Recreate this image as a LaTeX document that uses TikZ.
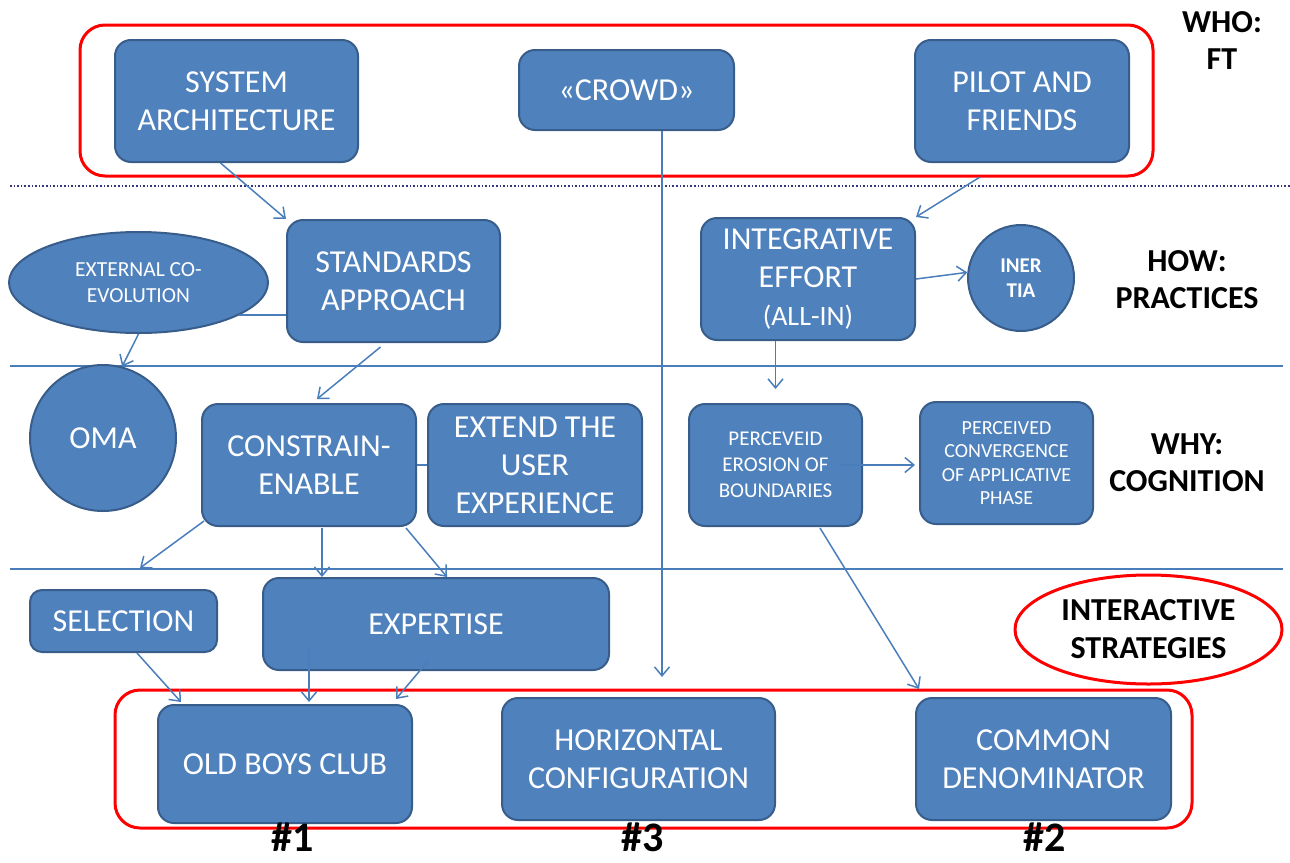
\documentclass[tikz,border=0pt]{standalone}
\usepackage{fontspec}
\setmainfont{Carlito}
\usetikzlibrary{arrows.meta,calc,shapes.geometric}
\definecolor{boxfill}{HTML}{4F81BD}
\definecolor{boxline}{HTML}{385D8A}
\definecolor{conn}{HTML}{4A7EBB}
\definecolor{framered}{HTML}{FF0000}
\tikzset{
  blk/.style={draw=boxline, fill=boxfill, line width=2pt, rounded corners=16pt,
    text=white, align=center, inner sep=0pt, font=\fontsize{32}{38}\selectfont},
  blkround/.style={draw=boxline, fill=boxfill, line width=2pt,
    text=white, align=center, inner sep=0pt},
  smalltxt/.style={font=\fontsize{21.5}{26}\selectfont},
  tinytxt/.style={font=\fontsize{20}{23.5}\selectfont},
  lab/.style={align=center, text=black, font=\bfseries\fontsize{32}{37}\selectfont},
  rank/.style={anchor=base, inner sep=0pt, outer sep=0pt, text=black, font=\bfseries\fontsize{42}{42}\selectfont},
  redframe/.style={draw=framered, line width=3pt, rounded corners=25pt},
  sepline/.style={draw=conn, line width=1.2pt},
  link/.style={draw=conn, line width=1.5pt},
  arr/.style={link, -{Straight Barb[length=9pt,width=15pt,line width=1.5pt]}},
}
\begin{document}
\begin{tikzpicture}[x=1pt,y=-1pt]
\useasboundingbox (0,0) rectangle (1290,862);

% layer separators
\draw[dotted, line width=1.6pt, gray!60!blue!70!black] (10,186) -- (1290,186);
\draw[sepline] (10,366) -- (1283,366);
\draw[sepline] (10,569) -- (1283,569);

% red groupings
\draw[redframe] (80,25) rectangle (1153,176);
\draw[redframe] (115,690) rectangle (1192,828);

% WHO row
\node[blk, minimum width=243pt, minimum height=122pt] (sa) at (236.5,101) {SYSTEM\\ARCHITECTURE};
\node[blk, minimum width=215pt, minimum height=80pt] (cr) at (626.5,90) {«CROWD»};
\node[blk, minimum width=214pt, minimum height=122pt] (pf) at (1022,101) {PILOT AND\\FRIENDS};

% HOW row
\node[blkround, ellipse, smalltxt, minimum width=259pt, minimum height=101pt] (ec) at (138.5,282.5) {EXTERNAL CO-\\EVOLUTION};
\node[blk, minimum width=213pt, minimum height=122pt] (std) at (393.5,281) {STANDARDS\\APPROACH};
\node[blk, minimum width=214pt, minimum height=122pt] (ie) at (808,279) {INTEGRATIVE\\EFFORT\\{\fontsize{28}{38}\selectfont(ALL-IN)}};
\node[blkround, circle, font=\bfseries\fontsize{21}{25}\selectfont, minimum size=106pt] (in) at (1021,278) {INER\\TIA};

% WHY row
\node[blkround, circle, font=\fontsize{32}{38}\selectfont, minimum size=146pt] (om) at (103,438) {OMA};
\node[blk, minimum width=214pt, minimum height=122pt] (ce) at (309,465) {CONSTRAIN-\\ENABLE};
\node[blk, minimum width=214pt, minimum height=122pt] (ex) at (535,465) {EXTEND THE\\USER\\EXPERIENCE};
\node[blk, font=\fontsize{21}{26}\selectfont, minimum width=173pt, minimum height=122pt] (pe) at (775.5,465) {PERCEVEID\\EROSION OF\\BOUNDARIES};
\node[blk, tinytxt, minimum width=173pt, minimum height=122pt] (pc) at (1006.5,463) {PERCEIVED\\CONVERGENCE\\OF APPLICATIVE\\PHASE};

% practices
\node[blk, rounded corners=12pt, minimum width=187pt, minimum height=62pt] (se) at (123.5,621) {SELECTION};
\node[blk, minimum width=346pt, minimum height=92pt] (xp) at (436,624) {EXPERTISE};

% strategies
\node[blk, minimum width=254pt, minimum height=118pt] (ob) at (285,764) {OLD BOYS CLUB};
\node[blk, minimum width=273pt, minimum height=122pt] (hc) at (638.5,759) {HORIZONTAL\\CONFIGURATION};
\node[blk, minimum width=255pt, minimum height=122pt] (cd) at (1043.5,759) {COMMON\\DENOMINATOR};
\node[ellipse, draw=framered, line width=3pt, fill=white, lab, font=\bfseries\fontsize{32}{38}\selectfont,
  minimum width=267pt, minimum height=109pt, inner sep=0pt] (is) at (1148.5,629.5) {INTERACTIVE\\STRATEGIES};

% level labels
\node[lab] (who) at (1222,41) {WHO:\\FT};
\node[lab] (how) at (1187,280) {HOW:\\PRACTICES};
\node[lab] (why) at (1187,463) {WHY:\\COGNITION};
\node[rank] (r1) at (293,851) {\#1};
\node[rank] (r3) at (643,851) {\#3};
\node[rank] (r2) at (1045,851) {\#2};

% connectors
\coordinate (crowdTip) at ($(hc.north)+(23.5,-20)$);
\coordinate (leftTip) at (140,568);
\draw[arr] ($(sa.south)+(-16,0)$) -- (std.north west);
\draw[arr] ($(cr.south)+(35.5,0)$) -- (crowdTip);
\draw[arr] ($(pf.south)+(-42,14)$) -- (ie.north east);
\draw[link] (ec.-18.2) -- (ec.-18.2 -| std.west);
\draw[arr] (ec.south) -- (om.75);
\draw[arr] (ie.east) -- (in.174);
\draw[arr] ($(std.south)+(-13,4)$) -- ($(ce.north)+(8,-4)$);
\draw[link] (ce.east) -- (ex.west);
\draw[arr] (pe.north |- ie.south) -- ($(pe.north)+(0,-14)$);
\draw[arr] ($(pe.east)+(-22,0)$) -- ($(pc.west)+(-4,2)$);
\draw[arr] ($(pe.south)+(44.5,1)$) -- ($(cd.north west)+(4,-8)$);
\draw[arr] ($(ce.south west)+(3,-6)$) -- (leftTip);
\draw[arr] ($(ce.south)+(13,1)$) -- ($(xp.north)+(-114,0)$);
\draw[arr] ($(ce.south east)+(-11,1)$) -- ($(xp.north)+(11,0)$);
\draw[arr] ($(se.south)+(13.5,0)$) -- ($(ob.north west)+(24,-2)$);
\draw[arr] ($(xp.south)+(-127,-23)$) -- ($(ob.north)+(24,-2)$);
\draw[arr] ($(xp.south)+(-8,-10)$) -- ($(ob.north east)+(-17,-5)$);
\end{tikzpicture}
\end{document}
